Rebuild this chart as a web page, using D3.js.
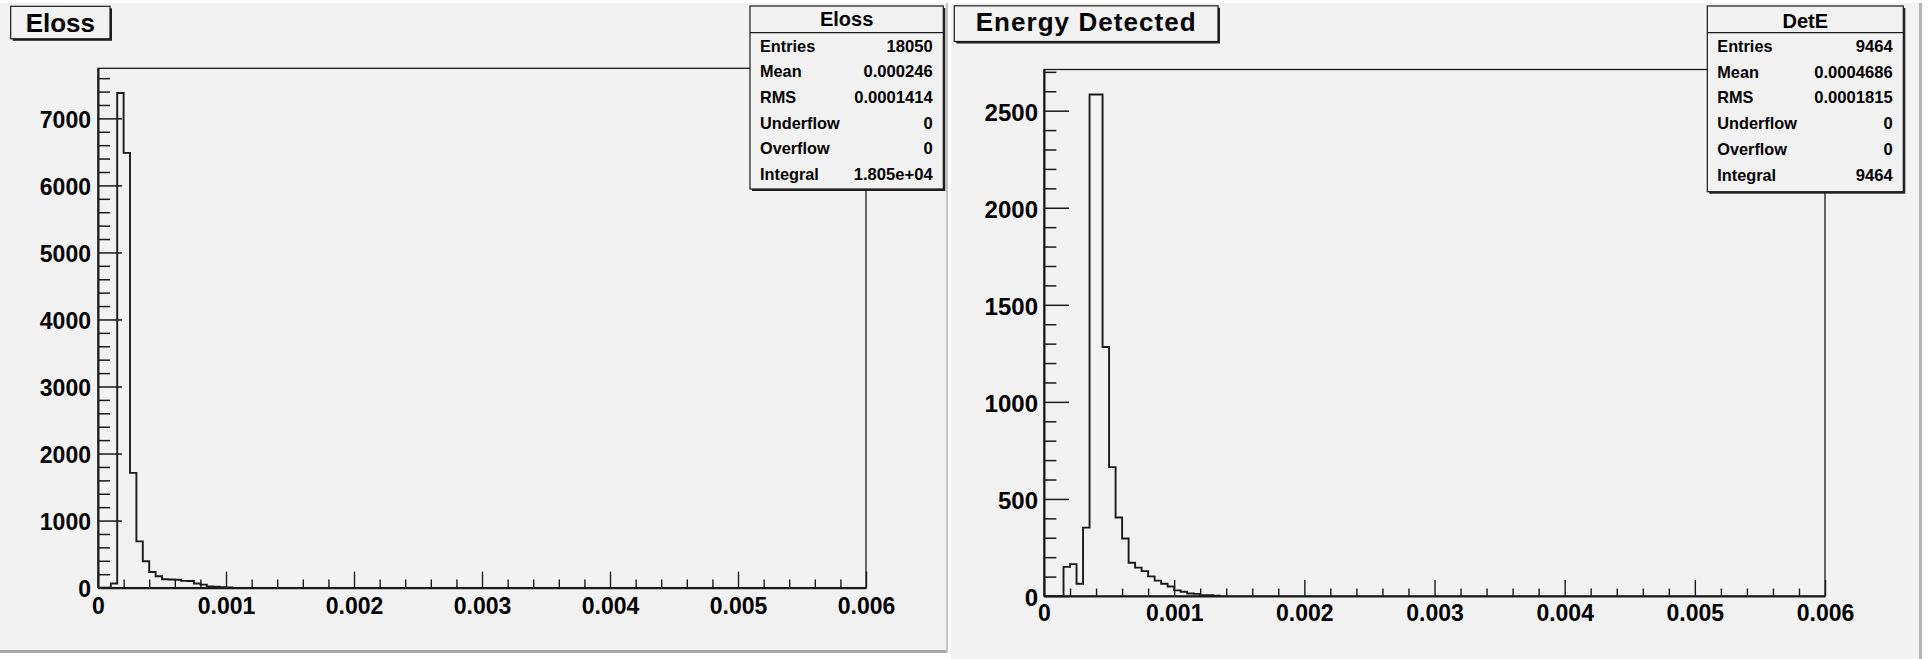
<!DOCTYPE html>
<html><head><meta charset="utf-8">
<script src="https://cdn.jsdelivr.net/npm/d3@7"></script>
<style>
html,body{margin:0;padding:0;background:#fff;}
svg{display:block;}
text{font-family:"Liberation Sans",Arial,Helvetica,sans-serif;font-weight:bold;fill:#000;}
</style>
</head><body>
<svg id="c" width="1931" height="659"></svg>
<script>
// ---------------- data ----------------
const binWidth = 0.00005;          // histogram bin width (range 0 .. 0.006)
const elossCounts = [0, 0, 62, 7378, 6485, 1712, 690, 392, 233, 169, 124, 120, 116, 100, 98, 62, 45, 18, 15, 6, 3];
const detECounts  = [0, 0, 0, 150, 164, 63, 352, 2583, 2583, 1283, 664, 404, 296, 171, 146, 128, 101, 79, 63, 49, 29, 22, 13, 11, 4, 4, 2];
const xTickValues = [0, 0.001, 0.002, 0.003, 0.004, 0.005, 0.006];
const xTickLabels = ["0", "0.001", "0.002", "0.003", "0.004", "0.005", "0.006"];
const elossYTicks = [0, 1000, 2000, 3000, 4000, 5000, 6000, 7000];
const detEYTicks  = [0, 500, 1000, 1500, 2000, 2500];
const statsLabels = ["Entries", "Mean", "RMS", "Underflow", "Overflow", "Integral"];
const elossStats  = ["18050", "0.000246", "0.0001414", "0", "0", "1.805e+04"];
const detEStats   = ["9464", "0.0004686", "0.0001815", "0", "0", "9464"];

// ---------------- layout ----------------
const svg = d3.select("#c");
svg.append("rect").attr("width",1931).attr("height",659).attr("fill","#fff");

const panels = [
  {
    bg:{x:0,y:3,w:946,h:647}, border:"left",
    frame:{l:98,t:68.3,r:866,b:587.6},
    counts:elossCounts, yTicks:elossYTicks, yMinorStep:200,
    title:"Eloss", titleBox:{x:10.7,y:6.3,w:99.3,h:32.5}, titleFont:26, titleSpacing:0, titleBase:32.4,
    statsTitle:"Eloss", stats:elossStats, statsBox:{x:750,y:6,w:193.3,h:183}, statsSep:32.7, statsTitleBase:26,
    rowBase:51.7, rowStep:25.65, labelX:760, valueX:932.7,
    yMaj:24, yMin:12, xMaj:16, xMin:8, yPad:7, xPad:10, yFont:23, xFont:23, yDy:"0.40em"
  },
  {
    bg:{x:951,y:3,w:968,h:656}, border:"right",
    frame:{l:1044,t:69.5,r:1825,b:596},
    counts:detECounts, yTicks:detEYTicks, yMinorStep:100,
    title:"Energy Detected", titleBox:{x:954.3,y:5.8,w:263.7,h:35.7}, titleFont:26, titleSpacing:1.05, titleBase:30.8,
    statsTitle:"DetE", stats:detEStats, statsBox:{x:1707.3,y:6,w:196,h:185.7}, statsSep:32.7, statsTitleBase:27.5,
    rowBase:51.7, rowStep:25.85, labelX:1717.3, valueX:1892.7,
    yMaj:25, yMin:12.3, xMaj:16, xMin:7.5, yPad:6, xPad:9, yFont:24, xFont:23, yDy:"0.40em"
  }
];

const ink = "#1a1a1a";

panels.forEach(p => {
  const g = svg.append("g");
  // panel background
  g.append("rect").attr("x",p.bg.x).attr("y",p.bg.y).attr("width",p.bg.w).attr("height",p.bg.h).attr("fill","#f2f2f2");
  if (p.border === "left") {
    g.append("rect").attr("x",0).attr("y",650).attr("width",948).attr("height",3).attr("fill","#a8a8a8");
    g.append("rect").attr("x",946).attr("y",3).attr("width",2).attr("height",650).attr("fill","#c4c4c4");
  } else {
    g.append("rect").attr("x",1919).attr("y",3).attr("width",3).attr("height",656).attr("fill","#b4b4b4");
  }

  const f = p.frame;
  const ymax = d3.max(p.counts) * 1.05;
  const x = d3.scaleLinear().domain([0, 0.006]).range([f.l, f.r]);
  const y = d3.scaleLinear().domain([0, ymax]).range([f.b, f.t]);

  // frame
  g.append("rect").attr("x",f.l).attr("y",f.t).attr("width",f.r-f.l).attr("height",f.b-f.t)
    .attr("fill","none").attr("stroke",ink).attr("stroke-width",1.3);

  // histogram step outline
  const pts = p.counts.map((c,i) => [i*binWidth, c]);
  pts.push([p.counts.length*binWidth, 0]);
  const line = d3.line().x(d => x(d[0])).y(d => y(d[1])).curve(d3.curveStepAfter);
  g.append("path").attr("d", line(pts)).attr("fill","none").attr("stroke",ink).attr("stroke-width",1.9);

  // y axis: minor ticks
  const yMinor = d3.range(0, ymax, p.yMinorStep).filter(v => !p.yTicks.includes(v));
  const yMinAx = g.append("g").attr("transform",`translate(${f.l},0)`)
    .call(d3.axisLeft(y).tickValues(yMinor).tickSizeInner(-p.yMin).tickSizeOuter(0).tickFormat(""));
  yMinAx.select(".domain").remove();
  yMinAx.selectAll("line").attr("stroke",ink).attr("stroke-width",1.5);
  // y axis: major ticks + labels
  const yAx = g.append("g").attr("transform",`translate(${f.l},0)`)
    .call(d3.axisLeft(y).tickValues(p.yTicks).tickSizeInner(-p.yMaj).tickSizeOuter(0).tickPadding(p.yPad).tickFormat(d3.format("d")));
  yAx.select(".domain").attr("stroke",ink).attr("stroke-width",2);
  yAx.selectAll("line").attr("stroke",ink).attr("stroke-width",1.5);
  yAx.selectAll("text").attr("font-size",p.yFont).attr("font-family",null).attr("dy",p.yDy);

  // x axis: minor ticks
  const xMinor = d3.range(0, 0.006001, 0.0002).filter(v => !xTickValues.some(t => Math.abs(t - v) < 1e-9));
  const xMinAx = g.append("g").attr("transform",`translate(0,${f.b})`)
    .call(d3.axisBottom(x).tickValues(xMinor).tickSizeInner(-p.xMin).tickSizeOuter(0).tickFormat(""));
  xMinAx.select(".domain").remove();
  xMinAx.selectAll("line").attr("stroke",ink).attr("stroke-width",1.4);
  // x axis: major ticks + labels
  const xAx = g.append("g").attr("transform",`translate(0,${f.b})`)
    .call(d3.axisBottom(x).tickValues(xTickValues).tickSizeInner(-p.xMaj).tickSizeOuter(0).tickPadding(p.xPad)
      .tickFormat((d,i) => xTickLabels[i]));
  xAx.select(".domain").attr("stroke",ink).attr("stroke-width",2.2);
  xAx.selectAll("line").attr("stroke",ink).attr("stroke-width",1.4);
  xAx.selectAll("text").attr("font-size",p.xFont).attr("font-family",null);

  // title box
  const tb = p.titleBox;
  g.append("rect").attr("x",tb.x+2).attr("y",tb.y+2).attr("width",tb.w).attr("height",tb.h).attr("fill","#222");
  g.append("rect").attr("x",tb.x).attr("y",tb.y).attr("width",tb.w).attr("height",tb.h)
    .attr("fill","#f2f2f2").attr("stroke",ink).attr("stroke-width",1.2);
  g.append("text").attr("x",tb.x+tb.w/2).attr("y",p.titleBase).attr("text-anchor","middle")
    .attr("font-size",p.titleFont).attr("letter-spacing",p.titleSpacing).text(p.title);

  // stats box
  const sb = p.statsBox;
  g.append("rect").attr("x",sb.x+2).attr("y",sb.y+2).attr("width",sb.w).attr("height",sb.h).attr("fill","#222");
  g.append("rect").attr("x",sb.x).attr("y",sb.y).attr("width",sb.w).attr("height",sb.h)
    .attr("fill","#f2f2f2").attr("stroke",ink).attr("stroke-width",1.2);
  g.append("line").attr("x1",sb.x).attr("x2",sb.x+sb.w).attr("y1",p.statsSep).attr("y2",p.statsSep)
    .attr("stroke",ink).attr("stroke-width",1.2);
  g.append("text").attr("x",sb.x+sb.w/2).attr("y",p.statsTitleBase).attr("text-anchor","middle")
    .attr("font-size",20).text(p.statsTitle);
  statsLabels.forEach((lab,i) => {
    const yy = p.rowBase + i*p.rowStep;
    g.append("text").attr("x",p.labelX).attr("y",yy).attr("font-size",16.3).text(lab);
    g.append("text").attr("x",p.valueX).attr("y",yy).attr("text-anchor","end").attr("font-size",16.6).text(p.stats[i]);
  });
});
</script>
</body></html>
